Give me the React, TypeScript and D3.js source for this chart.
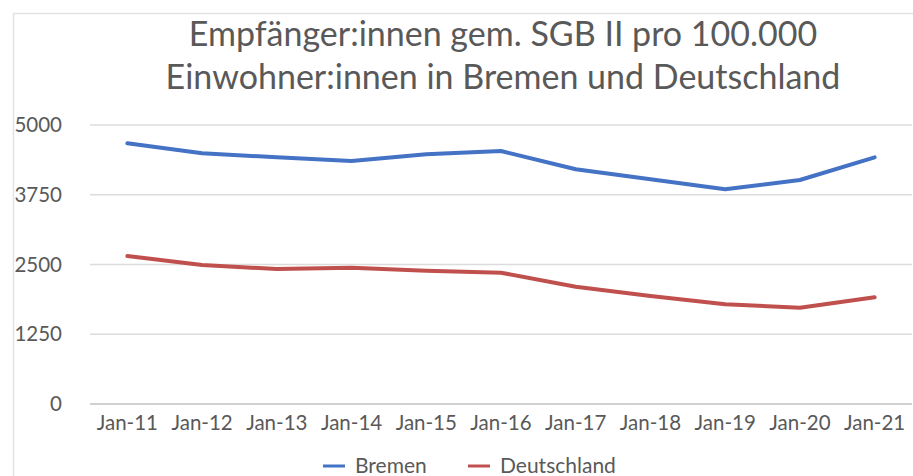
import React from "react";
import * as d3 from "d3";

const categories = ["Jan-11","Jan-12","Jan-13","Jan-14","Jan-15","Jan-16","Jan-17","Jan-18","Jan-19","Jan-20","Jan-21"];
const bremen = [4672, 4492, 4421, 4355, 4475, 4534, 4206, 4027, 3848, 4014, 4421];
const deutschland = [2652, 2491, 2419, 2443, 2389, 2353, 2102, 1935, 1786, 1726, 1912];
const yTicks = [0, 1250, 2500, 3750, 5000];
const titleLines = ["Empfänger:innen gem. SGB II pro 100.000", "Einwohner:innen in Bremen und Deutschland"];
const seriesNames = ["Bremen", "Deutschland"];
const seriesColors = ["#4472C4", "#C0504D"];

export default function App() {
  const W = 913, H = 476;
  const x = d3.scalePoint<string>().domain(categories).range([90, 912]).padding(0.5);
  const y = d3.scaleLinear().domain([0, 5000]).range([404, 125]);
  const line = d3.line<number>().x((_, i) => x(categories[i]) as number).y(d => y(d));
  const font = "Lato, 'Open Sans', sans-serif";
  const series = [bremen, deutschland];
  return (
    <svg width={W} height={H} style={{ position: "absolute", left: 0, top: 0, background: "#fff" }} fontFamily={font}>
      <rect x={0} y={0} width={W} height={H} fill="#fff" />
      <rect x={13.5} y={13.5} width={W + 10} height={H + 10} fill="none" stroke="#e3e3e3" strokeWidth={1.5} />
      {titleLines.map((t, i) => (
        <text key={i} x={503} y={46 + i * 43} textAnchor="middle" fontSize={34} fill="#595959">{t}</text>
      ))}
      {yTicks.map(t => (
        <g key={t}>
          <line x1={90} x2={912} y1={y(t)} y2={y(t)} stroke={t === 0 ? "#d0d0d0" : "#dcdcdc"} strokeWidth={t === 0 ? 2 : 1.5} />
          <text x={62} y={y(t)} dy="0.35em" textAnchor="end" fontSize={20.5} fill="#595959">{t}</text>
        </g>
      ))}
      {categories.map(c => (
        <text key={c} x={x(c)} y={430} textAnchor="middle" fontSize={20.5} fill="#595959">{c}</text>
      ))}
      {series.map((s, i) => (
        <path key={i} d={line(s) || ""} fill="none" stroke={seriesColors[i]} strokeWidth={4} strokeLinejoin="round" strokeLinecap="round" />
      ))}
      {seriesNames.map((n, i) => {
        const lx = i === 0 ? 323 : 468;
        return (
          <g key={n}>
            <line x1={lx} x2={lx + 22} y1={466} y2={466} stroke={seriesColors[i]} strokeWidth={3} />
            <text x={lx + 32} y={466} dy="0.35em" fontSize={21} fill="#595959">{n}</text>
          </g>
        );
      })}
    </svg>
  );
}
